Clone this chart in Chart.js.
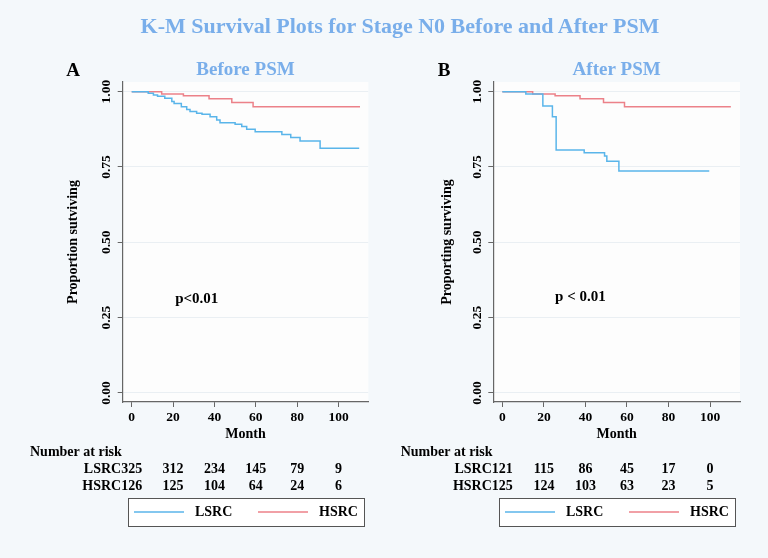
<!DOCTYPE html>
<html><head><meta charset="utf-8">
<script src="https://cdn.jsdelivr.net/npm/chart.js@4.4.1/dist/chart.umd.min.js"></script>
<style>
html,body{margin:0;padding:0;background:#f4f8fb;width:768px;height:558px;overflow:hidden}
canvas{position:absolute;top:0}
#title{position:absolute;left:0;top:13px;width:800px;text-align:center;font:bold 22px "Liberation Serif";color:#79aeea;z-index:2;white-space:nowrap}
</style></head><body>
<canvas id="cA" width="384" height="558" style="left:0"></canvas>
<canvas id="cB" width="384" height="558" style="left:384px"></canvas>
<div id="title">K-M Survival Plots for Stage N0 Before and After PSM</div>
<script>
// ---- data ----
const monthTicks = [0, 20, 40, 60, 80, 100];
const survTicks = [0, 0.25, 0.5, 0.75, 1];
const groupNames = ['LSRC', 'HSRC'];

const beforeLSRCMonths = [0, 8, 10.5, 12.5, 16, 19.4, 20.5, 24, 26.6, 28.2, 31.4, 34, 37.9, 41.1, 42.7, 50, 53.2, 55.6, 59.7, 72.6, 76.9, 81.4, 91.1, 110];
const beforeLSRCSurv   = [1, 0.995, 0.989, 0.985, 0.978, 0.967, 0.961, 0.950, 0.941, 0.934, 0.928, 0.925, 0.917, 0.906, 0.897, 0.892, 0.884, 0.875, 0.867, 0.858, 0.848, 0.836, 0.812, 0.812];
const beforeHSRCMonths = [0, 14.5, 25, 37.4, 48.4, 58.7, 110.4];
const beforeHSRCSurv   = [1, 0.992, 0.986, 0.976, 0.964, 0.950, 0.950];

const afterLSRCMonths = [0, 11.3, 19.5, 24.1, 25.9, 39.4, 49.2, 50.3, 56.1, 99.6];
const afterLSRCSurv   = [1, 0.992, 0.952, 0.917, 0.806, 0.797, 0.786, 0.769, 0.737, 0.737];
const afterHSRCMonths = [0, 14.6, 25.4, 37.4, 48.7, 58.8, 110];
const afterHSRCSurv   = [1, 0.992, 0.986, 0.976, 0.964, 0.950, 0.950];

const beforeRiskLSRC = [325, 312, 234, 145, 79, 9];
const beforeRiskHSRC = [126, 125, 104, 64, 24, 6];
const afterRiskLSRC  = [121, 115, 86, 45, 17, 0];
const afterRiskHSRC  = [125, 124, 103, 63, 23, 5];

// ---- styling ----
const SERIF = '"Liberation Serif", "Times New Roman", serif';
const BLUE = '#5ab5ea';
const RED = '#ec8189';
const AXIS = '#666666';

function pts(xs, ys) { return xs.map((x, i) => ({x: x, y: ys[i]})); }

const extras = {
  id: 'panelExtras',
  beforeDraw(chart) {
    const a = chart.chartArea, ctx = chart.ctx;
    ctx.save();
    ctx.fillStyle = '#fdfdfd';
    ctx.fillRect(a.left, a.top, a.right - a.left, a.bottom - a.top);
    ctx.restore();
  },
  afterDraw(chart) {
    const o = chart.options.plugins.panelExtras;
    const ctx = chart.ctx, xs = chart.scales.x, ys = chart.scales.y;
    ctx.save();
    // panel letter
    ctx.fillStyle = '#000';
    ctx.font = 'bold 19px ' + SERIF;
    ctx.textAlign = 'center'; ctx.textBaseline = 'middle';
    ctx.fillText(o.letter, o.letterX, 71);
    // panel title
    ctx.fillStyle = '#79aeea';
    ctx.font = 'bold 19px ' + SERIF;
    ctx.fillText(o.subtitle, (chart.chartArea.left + chart.chartArea.right) / 2, 70);
    // p value
    ctx.fillStyle = '#000';
    ctx.font = 'bold 15px ' + SERIF;
    ctx.textAlign = 'left';
    ctx.fillText(o.pText, xs.getPixelForValue(o.pAt[0]), ys.getPixelForValue(o.pAt[1]));
    // number at risk
    ctx.font = 'bold 14px ' + SERIF;
    ctx.fillText('Number at risk', o.riskLeft, 452);
    const rows = [[groupNames[0], o.riskL, 469], [groupNames[1], o.riskH, 486]];
    rows.forEach(r => {
      ctx.textAlign = 'center';
      r[1].forEach((v, i) => ctx.fillText(String(v), xs.getPixelForValue(monthTicks[i]), r[2]));
      const x0 = xs.getPixelForValue(monthTicks[0]) - ctx.measureText(String(r[1][0])).width / 2;
      ctx.textAlign = 'right';
      ctx.fillText(r[0], x0, r[2]);
    });
    // legend
    const bx = o.legendX, by = 498, bw = 236, bh = 28;
    ctx.fillStyle = '#ffffff';
    ctx.fillRect(bx, by, bw, bh);
    ctx.strokeStyle = '#555';
    ctx.lineWidth = 1;
    ctx.strokeRect(bx + 0.5, by + 0.5, bw, bh);
    ctx.lineWidth = 1.5;
    [[BLUE, groupNames[0], 6], [RED, groupNames[1], 130]].forEach(l => {
      ctx.strokeStyle = l[0];
      ctx.beginPath(); ctx.moveTo(bx + l[2], by + 14); ctx.lineTo(bx + l[2] + 50, by + 14); ctx.stroke();
      ctx.fillStyle = '#000';
      ctx.textAlign = 'left';
      ctx.fillText(l[1], bx + l[2] + 61, by + 14.5);
    });
    ctx.restore();
  }
};

function makePanel(id, p) {
  return new Chart(document.getElementById(id), {
    type: 'line',
    data: {
      datasets: [
        {label: groupNames[0], data: pts(p.lx, p.ly), borderColor: BLUE, borderWidth: 1.5, stepped: 'before', pointRadius: 0, fill: false},
        {label: groupNames[1], data: pts(p.hx, p.hy), borderColor: RED, borderWidth: 1.5, stepped: 'before', pointRadius: 0, fill: false}
      ]
    },
    options: {
      responsive: false, animation: false, events: [],
      layout: {padding: {left: 0, top: 82, right: p.padRight, bottom: 0}},
      plugins: {
        legend: {display: false}, tooltip: {enabled: false}, title: {display: false},
        panelExtras: p.extras
      },
      scales: {
        x: {
          type: 'linear', min: -4.35, max: 114.4,
          afterBuildTicks: s => { s.ticks = monthTicks.map(v => ({value: v})); },
          afterFit: s => { s.height = 156; },
          ticks: {autoSkip: false, maxRotation: 0, padding: 2, color: '#000', font: {family: SERIF, size: 13.5, weight: 'bold'}},
          grid: {drawOnChartArea: false, drawTicks: true, tickLength: 5, tickColor: AXIS, tickWidth: 1},
          border: {display: true, color: AXIS, width: 1.2},
          title: {display: true, text: 'Month', color: '#000', font: {family: SERIF, size: 14, weight: 'bold'}, padding: {top: 0, bottom: 115.6}}
        },
        y: {
          type: 'linear', min: -0.03, max: 1.032,
          afterBuildTicks: s => { s.ticks = survTicks.map(v => ({value: v})); },
          afterFit: s => { s.width = p.yWidth; },
          ticks: {autoSkip: false, minRotation: 90, maxRotation: 90, crossAlign: 'center', padding: -1, color: '#000',
                  font: {family: SERIF, size: 13.5, weight: 'bold'}, callback: v => Number(v).toFixed(2)},
          grid: {drawOnChartArea: true, color: '#eaeff3', lineWidth: 1, drawTicks: true, tickLength: 5, tickColor: AXIS, tickWidth: 1},
          border: {display: true, color: AXIS, width: 1.2},
          title: {display: true, text: p.yTitle, color: '#000', font: {family: SERIF, size: 14, weight: 'bold'}, padding: {top: p.yTitlePad, bottom: 0}}
        }
      }
    },
    plugins: [extras]
  });
}

makePanel('cA', {
  lx: beforeLSRCMonths, ly: beforeLSRCSurv, hx: beforeHSRCMonths, hy: beforeHSRCSurv,
  padRight: 15.7, yWidth: 122.7, yTitle: 'Proportion sutviving', yTitlePad: 64.8,
  extras: {letter: 'A', letterX: 73, subtitle: 'Before PSM', pText: 'p<0.01', pAt: [21, 0.311],
           riskLeft: 30, riskL: beforeRiskLSRC, riskH: beforeRiskHSRC, legendX: 128}
});
makePanel('cB', {
  lx: afterLSRCMonths, ly: afterLSRCSurv, hx: afterHSRCMonths, hy: afterHSRCSurv,
  padRight: 28, yWidth: 109.3, yTitle: 'Proporting surviving', yTitlePad: 54.8,
  extras: {letter: 'B', letterX: 60, subtitle: 'After PSM', pText: 'p < 0.01', pAt: [25.4, 0.318],
           riskLeft: 16.7, riskL: afterRiskLSRC, riskH: afterRiskHSRC, legendX: 115}
});
</script>
</body></html>
